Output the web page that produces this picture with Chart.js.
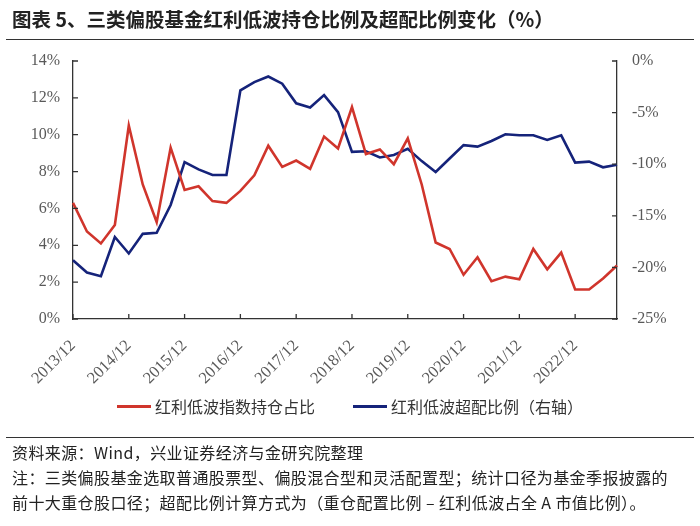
<!DOCTYPE html>
<html>
<head>
<meta charset="utf-8">
<script src="https://cdn.jsdelivr.net/npm/chart.js@4"></script>
<style>
  body { margin: 0; background: #fff; }
  #wrap { position: relative; width: 700px; height: 526px; overflow: hidden; font-family: "Noto Sans CJK SC", sans-serif; color: #222; }
  #c { position: absolute; left: 0; top: 0; }
  .txt { position: absolute; white-space: nowrap; }
  .hr { position: absolute; left: 6px; width: 688px; height: 1px; background: #333; }
  .leg { position: absolute; top: 394px; font-size: 16px; color: #333; display: flex; align-items: center; }
  .leg span.ln { display: inline-block; width: 34px; height: 3px; margin-right: 4px; }
  .note { font-size: 16px; letter-spacing: 0.4px; }
</style>
</head>
<body>
<div id="wrap">
  <canvas id="c" width="700" height="526"></canvas>
  <div class="txt" style="left:12px;top:4px;font-size:19.5px;font-weight:bold;">图表 5、三类偏股基金红利低波持仓比例及超配比例变化（%）</div>
  <div class="hr" style="top:39px;"></div>
  <div class="leg" style="left:117px;"><span class="ln" style="background:#d0352c"></span>红利低波指数持仓占比</div>
  <div class="leg" style="left:353px;"><span class="ln" style="background:#15237a"></span>红利低波超配比例（右轴）</div>
  <div class="hr" style="top:437px;"></div>
  <div class="txt note" style="left:12px;top:440px;">资料来源：Wind，兴业证券经济与金研究院整理</div>
  <div class="txt note" style="left:12px;top:465px;">注：三类偏股基金选取普通股票型、偏股混合型和灵活配置型；统计口径为基金季报披露的</div>
  <div class="txt note" style="left:12px;top:490px;">前十大重仓股口径；超配比例计算方式为（重仓配置比例 – 红利低波占全 A 市值比例）。</div>
</div>
<script>
const quarters = [
  '2013/12','2014/3','2014/6','2014/9','2014/12','2015/3','2015/6','2015/9',
  '2015/12','2016/3','2016/6','2016/9','2016/12','2017/3','2017/6','2017/9',
  '2017/12','2018/3','2018/6','2018/9','2018/12','2019/3','2019/6','2019/9',
  '2019/12','2020/3','2020/6','2020/9','2020/12','2021/3','2021/6','2021/9',
  '2021/12','2022/3','2022/6','2022/9','2022/12','2023/3','2023/6','2023/9'
];
// 红利低波指数持仓占比 (%)
const holdingShare = [
  6.3, 4.75, 4.1, 5.1, 10.5, 7.3, 5.25, 9.3,
  7.0, 7.2, 6.4, 6.3, 6.95, 7.8, 9.4, 8.25,
  8.6, 8.15, 9.9, 9.25, 11.5, 8.95, 9.2, 8.4,
  9.8, 7.3, 4.15, 3.8, 2.4, 3.35, 2.05, 2.3,
  2.15, 3.8, 2.7, 3.6, 1.6, 1.6, 2.2, 2.9
];
// 红利低波超配比例 (%, 右轴)
const overweight = [
  -19.3, -20.5, -20.85, -17.05, -18.65, -16.75, -16.65, -13.95,
  -9.8, -10.5, -11.05, -11.05, -2.85, -2.05, -1.5, -2.2,
  -4.1, -4.5, -3.3, -4.95, -8.8, -8.75, -9.35, -9.1,
  -8.5, -9.7, -10.75, -9.45, -8.15, -8.3, -7.75, -7.1,
  -7.2, -7.2, -7.65, -7.2, -9.85, -9.75, -10.3, -10.05
];
const leftTicks = [0, 2, 4, 6, 8, 10, 12, 14];
const rightTicks = [-25, -20, -15, -10, -5, 0];

const serif = '"Liberation Serif", "Times New Roman", serif';

// short inward tick marks like the original
const innerTicks = {
  id: 'innerTicks',
  afterDraw(chart) {
    const ctx = chart.ctx, a = chart.chartArea;
    const x = chart.scales.x, y = chart.scales.y, y2 = chart.scales.y2;
    ctx.save();
    ctx.strokeStyle = '#333';
    ctx.lineWidth = 1.3;
    ctx.beginPath();
    leftTicks.forEach(v => { const p = y.getPixelForValue(v); ctx.moveTo(a.left, p); ctx.lineTo(a.left + 5, p); });
    rightTicks.forEach(v => { const p = y2.getPixelForValue(v); ctx.moveTo(a.right, p); ctx.lineTo(a.right - 5, p); });
    quarters.forEach((q, i) => {
      if (i % 4 === 0) { const p = x.getPixelForValue(i); ctx.moveTo(p, a.bottom); ctx.lineTo(p, a.bottom - 5); }
    });
    ctx.stroke();
    ctx.restore();
  }
};

new Chart(document.getElementById('c'), {
  type: 'line',
  data: {
    labels: quarters,
    datasets: [
      { label: '红利低波指数持仓占比', data: holdingShare, yAxisID: 'y', borderColor: '#d0352c', borderWidth: 2.6, pointRadius: 0, tension: 0 },
      { label: '红利低波超配比例（右轴）', data: overweight, yAxisID: 'y2', borderColor: '#15237a', borderWidth: 2.6, pointRadius: 0, tension: 0 }
    ]
  },
  options: {
    responsive: false,
    animation: false,
    layout: { padding: { top: 61, left: 0, right: 0, bottom: 137 } },
    plugins: { legend: { display: false }, tooltip: { enabled: false } },
    scales: {
      x: {
        offset: false,
        grid: { display: false },
        border: { display: true, color: '#333', width: 1.3 },
        afterFit(s) { s.height = 70; },
        ticks: {
          autoSkip: false, minRotation: 45, maxRotation: 45, padding: 9,
          color: '#595959', font: { family: serif, size: 16.5 },
          callback(v, i) { return i % 4 === 0 ? quarters[i] : ''; }
        }
      },
      y: {
        position: 'left', min: 0, max: 14,
        grid: { display: false },
        border: { display: true, color: '#333', width: 1.3 },
        afterFit(s) { s.width = 73; },
        afterBuildTicks(s) { s.ticks = leftTicks.map(v => ({ value: v })); },
        ticks: { color: '#595959', font: { family: serif, size: 16 }, padding: 5, callback: v => v + '%' }
      },
      y2: {
        position: 'right', min: -25, max: 0,
        grid: { display: false },
        border: { display: true, color: '#333', width: 1.3 },
        afterFit(s) { s.width = 83; },
        afterBuildTicks(s) { s.ticks = rightTicks.map(v => ({ value: v })); },
        ticks: { color: '#595959', font: { family: serif, size: 16 }, padding: 7, callback: v => v + '%' }
      }
    }
  },
  plugins: [innerTicks]
});
</script>
</body>
</html>
